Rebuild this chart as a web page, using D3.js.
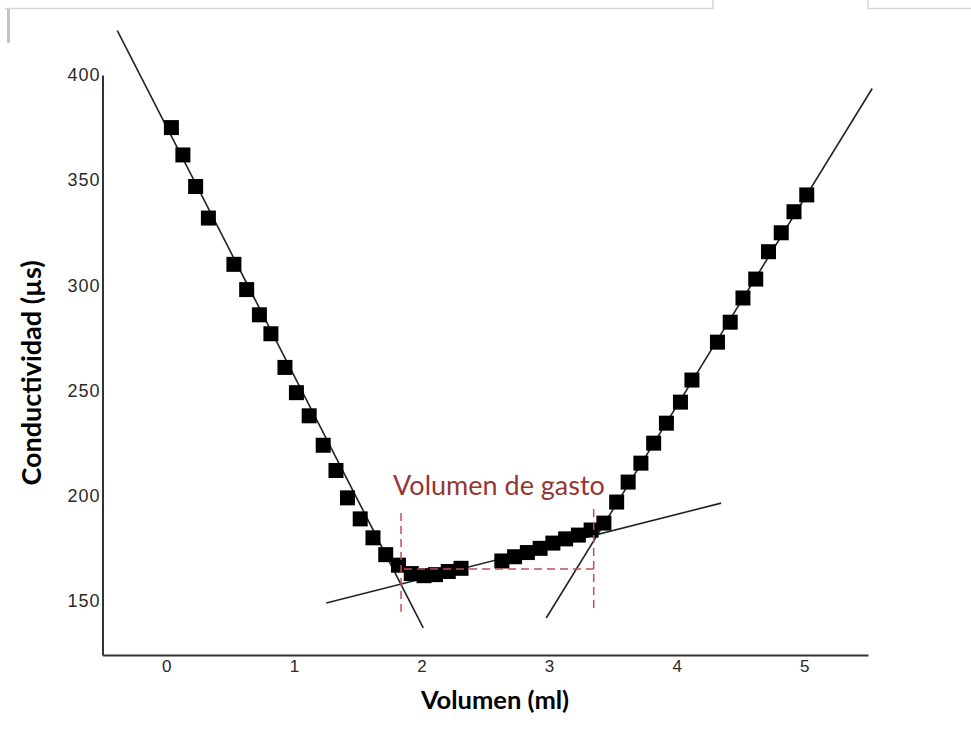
<!DOCTYPE html>
<html>
<head>
<meta charset="utf-8">
<script src="https://cdn.jsdelivr.net/npm/d3@7"></script>
<style>
  body { margin: 0; background: #fff; }
  svg { display: block; }
</style>
</head>
<body>
<svg id="chart"></svg>
<script>
// Titration data
const volumen = [0.04, 0.13, 0.23, 0.33, 0.53, 0.63, 0.73, 0.82, 0.93, 1.02,
                 1.12, 1.23, 1.33, 1.42, 1.52, 1.62, 1.72, 1.82, 1.92, 2.02,
                 2.11, 2.21, 2.31, 2.63, 2.73, 2.83, 2.93, 3.03, 3.13, 3.23,
                 3.33, 3.43, 3.53, 3.62, 3.72, 3.82, 3.92, 4.03, 4.12, 4.32,
                 4.42, 4.52, 4.62, 4.72, 4.82, 4.92, 5.02];
const conductividad = [375, 362, 347, 332, 310, 298, 286, 277, 261, 249,
                       238, 224, 212, 199, 189, 180, 172, 167, 163, 162,
                       162.5, 164, 165.5, 169, 171, 173, 175, 177.5, 179.5, 181.3,
                       183.7, 187, 197, 206.5, 215.5, 225, 234.5, 244.5, 255, 273,
                       282.5, 294, 303, 316, 325, 335, 343];

// fitted straight lines (start and end points, in data units)
const lineNames = ["acido", "meseta", "base"];
const lineX = [[-0.384, 2.014], [1.254, 4.349], [2.978, 5.533]];
const lineY = [[421.1, 137.2], [149.0, 196.5], [141.9, 393.6]];

// "Volumen de gasto" guide lines
const gastoX = [1.84, 3.35];
const gastoYTop = [191.8, 193.7];
const gastoYBottom = [144.8, 145.7];
const gastoLevel = 165.2;

const xTicks = [0, 1, 2, 3, 4, 5];
const yTicks = [150, 200, 250, 300, 350, 400];

const W = 971, H = 750;
const svg = d3.select("#chart").attr("width", W).attr("height", H);

const x = d3.scaleLinear().domain([-0.5, 5.5]).range([102.5, 868]);
const y = d3.scaleLinear().domain([124.3, 400]).range([655, 75]);

// light grey frame left over from the screenshot
const frame = svg.append("g").attr("fill", "none").attr("stroke", "#d6d6d6").attr("stroke-width", 1.5);
frame.append("path").attr("d", "M5,8.5H713V0");
frame.append("path").attr("d", "M868,0V8.5H971");
svg.append("rect").attr("x", 7).attr("y", 9).attr("width", 3).attr("height", 34).attr("fill", "#c4c4c4");

// axes
const yAxis = svg.append("g")
    .attr("transform", "translate(102.5,0)")
    .call(d3.axisLeft(y).tickValues(yTicks).tickSize(0).tickSizeOuter(0).tickPadding(2));

const xAxis = svg.append("g")
    .attr("transform", "translate(0,655)")
    .call(d3.axisBottom(x).tickValues(xTicks).tickFormat(d3.format("d"))
      .tickSize(0).tickSizeOuter(0).tickPadding(5));

[yAxis, xAxis].forEach(a => {
  a.select(".domain").attr("stroke", "#333").attr("stroke-width", 2);
  a.selectAll("text")
    .attr("fill", "#2a2a2a")
    .attr("font-family", "'Liberation Sans', Arial, sans-serif")
    .attr("font-size", 17);
});
yAxis.selectAll("text").attr("font-size", 18).attr("letter-spacing", 1);

// fitted lines
svg.append("g").selectAll("line")
    .data(lineNames)
  .enter().append("line")
    .attr("x1", (d, i) => x(lineX[i][0]))
    .attr("y1", (d, i) => y(lineY[i][0]))
    .attr("x2", (d, i) => x(lineX[i][1]))
    .attr("y2", (d, i) => y(lineY[i][1]))
    .attr("stroke", "#222")
    .attr("stroke-width", 1.6);

// data squares
const sq = 15;
svg.append("g").selectAll("rect")
    .data(volumen)
  .enter().append("rect")
    .attr("x", (d, i) => x(d) - sq / 2)
    .attr("y", (d, i) => y(conductividad[i]) - sq / 2)
    .attr("width", sq)
    .attr("height", sq)
    .attr("fill", "#000");

// red dashed guides
const guides = svg.append("g")
    .attr("stroke", "#c0504d")
    .attr("stroke-width", 1.5)
    .attr("stroke-dasharray", "8,5");
gastoX.forEach((v, i) => {
  guides.append("line")
    .attr("x1", x(v)).attr("x2", x(v))
    .attr("y1", y(gastoYTop[i])).attr("y2", y(gastoYBottom[i]));
});
guides.append("line")
    .attr("x1", x(gastoX[0]) + 3).attr("x2", x(gastoX[1]))
    .attr("y1", y(gastoLevel)).attr("y2", y(gastoLevel));

svg.append("text")
    .attr("x", 499)
    .attr("y", 495)
    .attr("text-anchor", "middle")
    .attr("fill", "#943634")
    .style("font-family", "Lato, 'Open Sans', sans-serif")
    .style("font-size", "27px")
    .text("Volumen de gasto");

// axis titles
svg.append("text")
    .attr("x", 495)
    .attr("y", 709)
    .attr("text-anchor", "middle")
    .style("font-family", "Lato, 'Open Sans', sans-serif")
    .style("font-weight", "bold")
    .style("font-size", "25.5px")
    .text("Volumen (ml)");

svg.append("text")
    .attr("transform", "translate(41,373) rotate(-90)")
    .attr("text-anchor", "middle")
    .style("font-family", "Lato, 'Open Sans', sans-serif")
    .style("font-weight", "bold")
    .style("font-size", "27px")
    .text("Conductividad (µs)");
</script>
</body>
</html>
